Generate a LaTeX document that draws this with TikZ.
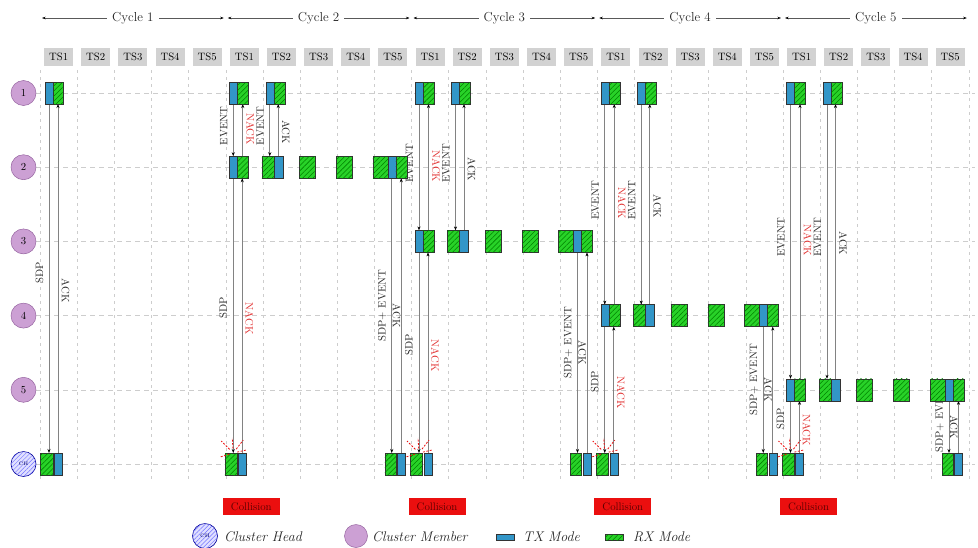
\documentclass[tikz,border=0pt]{standalone}
\usetikzlibrary{arrows.meta,patterns,patterns.meta,calc}
\definecolor{tsgray}{RGB}{210,210,210}
\definecolor{mempurple}{RGB}{204,160,212}
\definecolor{memborder}{RGB}{150,100,160}
\definecolor{txblue}{RGB}{50,150,200}
\definecolor{rxgreen}{RGB}{40,210,40}
\definecolor{rxhatch}{RGB}{0,130,0}
\definecolor{nackred}{RGB}{225,45,45}
\definecolor{gridgray}{RGB}{205,205,205}
\definecolor{linegray}{RGB}{130,130,130}
\definecolor{labelgray}{RGB}{40,40,40}
\definecolor{collred}{RGB}{235,15,15}
\pgfdeclarelayer{bg}
\pgfsetlayers{bg,main}
\tikzset{
  fnt/.style={font=\fontsize{10.7}{12}\selectfont},
  tx/.style={draw=black!80, line width=0.4pt, fill=txblue, minimum height=22pt,
    inner sep=0pt, outer sep=0pt, anchor=west},
  rx/.style={draw=black!80, line width=0.4pt, fill=rxgreen,
    postaction={pattern={Lines[angle=45,distance=3.6pt,line width=0.55pt]}, pattern color=rxhatch},
    minimum height=22pt, inner sep=0pt, outer sep=0pt, anchor=west},
  msg/.style={draw=linegray, line width=0.6pt, -{Stealth[length=4pt,width=3pt,color=black]}},
  lblL/.style={fnt, text=labelgray, rotate=90, inner sep=0pt},
  lblR/.style={fnt, text=labelgray, rotate=-90, inner sep=0pt},
  gridv/.style={draw=gridgray, line width=0.5pt, dash pattern=on 3pt off 4pt},
  gridh/.style={draw=gridgray, line width=0.5pt, dash pattern=on 5pt off 4pt},
  hdr/.style={draw=black!65, line width=0.5pt,
    {Stealth[length=3.5pt,width=2.5pt,color=black]}-{Stealth[length=3.5pt,width=2.5pt,color=black]}},
  cyclelbl/.style={fill=white, inner sep=5pt, font=\fontsize{13}{15}\selectfont, text=black!85},
  tsbox/.style={fill=tsgray, minimum width=29pt, minimum height=18pt, inner sep=0pt, fnt},
  member/.style={circle, fill=mempurple, draw=memborder, line width=0.5pt,
    minimum size=25pt, inner sep=0pt, fnt},
  chnode/.style={circle, fill=blue!12, postaction={pattern={Lines[angle=45,distance=3pt,line width=0.5pt]}, pattern color=blue!55},
    draw=blue!60!black, line width=0.6pt, minimum size=25pt, inner sep=0pt,
    font=\fontsize{5}{6}\selectfont, text=blue!40!black},
  ray/.style={draw=collred, line width=0.8pt, dash pattern=on 2pt off 1.5pt},
  collbox/.style={fill=collred, minimum width=57pt, minimum height=17pt, inner sep=0pt,
    font=\fontsize{11}{12}\selectfont, text={rgb,255:red,90;green,0;blue,0}},
  lgtext/.style={font=\fontsize{14}{16}\selectfont\itshape, inner sep=2pt, anchor=west, text=black!85}
}
\begin{document}
\begin{tikzpicture}[x=1pt,y=-1pt]
\useasboundingbox (0,0) rectangle (978,547);
% grid
\begin{pgfonlayer}{bg}
\foreach \k in {0,...,25}{
  \draw[gridv] (40+37.15*\k,70) -- (40+37.15*\k,480);
}
\foreach \m in {0,...,5}{
  \draw[gridh] (36,93+74.2*\m) -- (975,93+74.2*\m);
}
\end{pgfonlayer}
% cycle headers
\foreach \c in {1,...,5}{
  \coordinate (hs\c) at (42+185.75*\c-185.75,18);
  \coordinate (he\c) at (38+185.75*\c,18);
  \draw[hdr] (hs\c) -- (he\c);
  \node[cyclelbl] (cy\c) at ($(hs\c)!0.5!(he\c)$) {Cycle \c};
}
% time slot labels
\foreach \k in {0,...,24}{
  \pgfmathtruncatemacro{\t}{mod(\k,5)+1}
  \node[tsbox] (ts\k) at (58.6+37.15*\k,57) {TS\t};
}
% nodes
\foreach \m in {1,...,5}{
  \node[member] (nd\m) at (23.5,93+74.2*\m-74.2) {\m};
}
\node[chnode] (ch) at (23.5,464) {CH};
% cycle 1
\node[tx,minimum width=8pt] (t11) at (45,93) {};
\node[rx,minimum width=10pt] (r11) at (53,93) {};
\node[rx,minimum width=13pt] (chr1) at (40,464) {};
\node[tx,minimum width=8pt] (cht1) at (54,464) {};
\begin{pgfonlayer}{bg}
\draw[msg] (t11.south) -- node[xshift=-9.5pt,yshift=6pt,lblL]{SDP} (t11.south |- chr1.north);
\draw[msg] (cht1.north) -- node[xshift=7.5pt,yshift=-12pt,lblR]{ACK} (cht1.north |- r11.south);
\end{pgfonlayer}
% cycles 2..5
\foreach \c in {2,...,5}{
  \pgfmathsetmacro{\X}{40+185.75*(\c-1)}
  \pgfmathsetmacro{\R}{93+74.2*(\c-1)}
  % node 1
  \node[tx,minimum width=8pt] (p\c) at (\X+3.5,93) {};
  \node[rx,minimum width=11pt] (q\c) at (\X+11.5,93) {};
  \node[tx,minimum width=8pt] (u\c) at (\X+40,93) {};
  \node[rx,minimum width=11pt] (v\c) at (\X+48,93) {};
  % member c
  \node[tx,minimum width=8pt] (mp\c) at (\X+3.5,\R) {};
  \node[rx,minimum width=11pt] (mq\c) at (\X+11.5,\R) {};
  \node[rx,minimum width=12pt] (mu\c) at (\X+36,\R) {};
  \node[tx,minimum width=9pt] (mv\c) at (\X+48,\R) {};
  \node[rx,minimum width=16pt] (mw\c) at (\X+73.5,\R) {};
  \node[rx,minimum width=16pt] (mx\c) at (\X+110.5,\R) {};
  \node[rx,minimum width=15pt] (my\c) at (\X+147,\R) {};
  \node[tx,minimum width=8pt] (mz\c) at (\X+162,\R) {};
  \node[rx,minimum width=11pt] (mo\c) at (\X+170,\R) {};
  % cluster head
  \node[rx,minimum width=12pt] (ca\c) at (\X-1,464) {};
  \node[tx,minimum width=8pt] (cb\c) at (\X+12.5,464) {};
  \node[rx,minimum width=11pt] (cc\c) at (\X+159,464) {};
  \node[tx,minimum width=8pt] (cd\c) at (\X+171.5,464) {};
  \begin{pgfonlayer}{bg}
    \draw[msg] (p\c.south) -- node[xshift=-9.5pt,yshift=4pt,lblL]{EVENT} (p\c.south |- mp\c.north);
    \draw[msg] (mq\c.north) -- node[xshift=7.5pt,yshift=1pt,lblR,text=nackred]{NACK} (mq\c.north |- q\c.south);
    \draw[msg] (u\c.south) -- node[xshift=-9.5pt,yshift=4pt,lblL]{EVENT} (u\c.south |- mu\c.north);
    \draw[msg] (mv\c.north) -- node[xshift=7.5pt,yshift=-2pt,lblR]{ACK} (mv\c.north |- v\c.south);
    \draw[msg] (mp\c.south) -- node[xshift=-10pt,yshift=8pt,lblL]{SDP} (mp\c.south |- ca\c.north);
    \draw[msg] (cb\c.north) -- node[xshift=7pt,yshift=-3pt,lblR,text=nackred]{NACK} (cb\c.north |- mq\c.south);
    \draw[msg] (mz\c.south) -- node[xshift=-9.5pt,yshift=10pt,lblL]{SDP+ EVENT} (mz\c.south |- cc\c.north);
    \draw[msg] (cd\c.north) -- node[xshift=-4.75pt,lblR]{ACK} (cd\c.north |- mo\c.south);
  \end{pgfonlayer}
  % collision marks
  \coordinate (cx\c) at (p\c.south |- ca\c.north);
  \foreach \dx/\dy in {-12/-12,10/-13,-1/-15,-13/4,13/-3}{
    \draw[ray] ($(cx\c)+0.3*(\dx,\dy)$) -- ($(cx\c)+(\dx,\dy)$);
  }
  \node[collbox] (col\c) at (\X+25.6,506.7) {Collision};
}
% legend
\node[chnode] (lgch) at (205,536) {CH};
\node[lgtext] (lgcht) at (222,537) {Cluster Head};
\node[member,minimum size=23pt] (lgm) at (356,536) {};
\node[lgtext] (lgmt) at (370,537) {Cluster Member};
\node[tx,minimum width=18pt,minimum height=6pt] (lgtx) at (496,537) {};
\node[lgtext] (lgtxt) at (521,537) {TX Mode};
\node[rx,minimum width=18pt,minimum height=6pt] (lgrx) at (605,537) {};
\node[lgtext] (lgrxt) at (631,537) {RX Mode};
\end{tikzpicture}
\end{document}
